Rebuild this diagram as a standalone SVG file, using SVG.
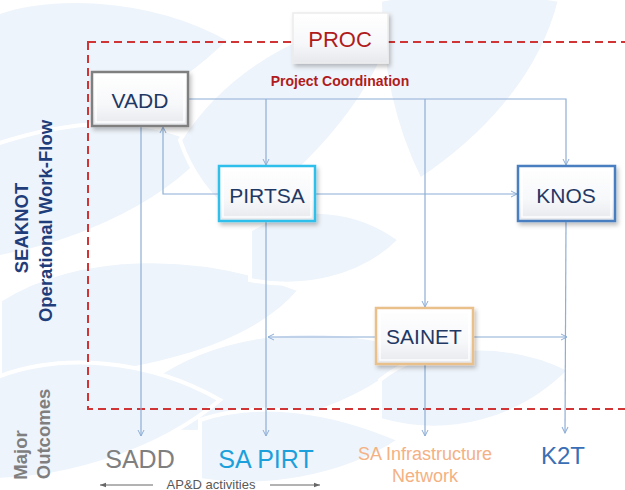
<svg xmlns="http://www.w3.org/2000/svg" width="625" height="490" viewBox="0 0 625 490">
<defs>
<linearGradient id="nodeFill" x1="0" y1="0" x2="0" y2="1">
<stop offset="0" stop-color="#ffffff"/>
<stop offset="0.6" stop-color="#f7f8fa"/>
<stop offset="1" stop-color="#e6e8ec"/>
</linearGradient>
<filter id="shadow" x="-20%" y="-20%" width="150%" height="160%">
<feDropShadow dx="2" dy="3" stdDeviation="2" flood-color="#000" flood-opacity="0.25"/>
</filter>
<marker id="arr" viewBox="0 0 8 8" refX="7" refY="4" markerWidth="8" markerHeight="8" markerUnits="userSpaceOnUse" orient="auto">
<path d="M1,1 L7,4 L1,7" fill="none" stroke="#8eaed6" stroke-width="1"/>
</marker>
<marker id="garr" viewBox="0 0 8 8" refX="7" refY="4" markerWidth="7" markerHeight="7" markerUnits="userSpaceOnUse" orient="auto">
<path d="M0,1.5 L7,4 L0,6.5 Z" fill="#666"/>
</marker>
</defs>
<style>
.leaf{fill:#eef4fb;stroke:#ffffff;stroke-width:4}
.conn{fill:none;stroke:#8eaed6;stroke-width:1.2;marker-end:url(#arr)}
.box{fill:url(#nodeFill);stroke-width:2.5;filter:url(#shadow)}
.bevel{fill:none;stroke:#ffffff;stroke-width:1.5;opacity:0.9}
.ntext{font-family:"Liberation Sans",Arial,sans-serif;font-size:21px;fill:#1f3864;text-anchor:middle}
.side{font-family:"Liberation Sans",Arial,sans-serif;font-weight:bold;font-size:18.5px;text-anchor:middle}
.out{font-family:"Liberation Sans",Arial,sans-serif;text-anchor:middle}
</style>
<rect width="625" height="490" fill="#ffffff"/>
<g id="background">
<path class="leaf" d="M-20,20 C40,-10 150,-5 230,40 C180,90 100,140 -20,150 Z"/>
<path class="leaf" d="M-20,150 C60,120 150,110 210,150 C160,210 60,250 -20,260 Z"/>
<path class="leaf" d="M180,140 C230,60 320,20 400,10 C380,90 320,160 240,220 C210,200 190,170 180,140 Z"/>
<path class="leaf" d="M380,0 C430,-10 500,-10 560,0 C540,80 480,140 420,180 C390,120 380,60 380,0 Z"/>
<path class="leaf" d="M0,300 C80,250 200,250 300,290 C250,350 130,380 0,380 Z"/>
<path class="leaf" d="M150,380 C220,330 320,320 420,350 C360,410 260,440 150,430 Z"/>
<path class="leaf" d="M-10,380 C60,350 150,360 220,400 C160,450 70,480 -10,480 Z"/>
<path class="leaf" d="M380,380 C430,340 510,340 570,370 C520,420 450,440 380,420 Z"/>
<path class="leaf" d="M200,420 C260,400 330,410 400,440 C340,480 260,490 200,480 Z"/>
<path class="leaf" d="M250,230 C300,200 360,210 400,240 C360,280 300,290 250,280 Z"/>
</g>
<g id="boundary">
<rect x="88" y="42" width="560" height="367" fill="none" stroke="#d03434" stroke-width="2" stroke-dasharray="8,5"/>
</g>
<g id="labels">
<text class="side" fill="#1f3d7a" transform="translate(28,228) rotate(-90)">SEAKNOT</text>
<text class="side" fill="#1f3d7a" transform="translate(52,221) rotate(-90)">Operational Work-Flow</text>
<text class="side" fill="#7f7f7f" transform="translate(27,455) rotate(-90)">Major</text>
<text class="side" fill="#7f7f7f" transform="translate(50,434) rotate(-90)">Outcomes</text>
<text x="340" y="86" font-family="'Liberation Sans',Arial,sans-serif" font-weight="bold" font-size="14" fill="#b01c1c" text-anchor="middle">Project Coordination</text>
</g>
<g id="connectors">
<polyline class="conn" points="188,99 566,99 566,165"/>
<line class="conn" x1="266" y1="99" x2="266" y2="165"/>
<line class="conn" x1="425" y1="99" x2="425" y2="307"/>
<polyline class="conn" points="219,194 163,194 163,127"/>
<line class="conn" x1="315" y1="194" x2="517" y2="194"/>
<line class="conn" x1="141" y1="126" x2="141" y2="436"/>
<line class="conn" x1="266" y1="221" x2="266" y2="436"/>
<line class="conn" x1="376" y1="337" x2="268" y2="337"/>
<line class="conn" x1="473" y1="337" x2="567" y2="337"/>
<line class="conn" x1="425" y1="364" x2="425" y2="436"/>
<line class="conn" x1="566" y1="221" x2="565" y2="433"/>
</g>
<g id="PROC">
<rect class="box" x="293" y="13" width="95" height="50" style="stroke:#ececec;stroke-width:1.5"/>
<text x="340" y="47" font-family="'Liberation Sans',Arial,sans-serif" font-size="22" fill="#b01c1c" text-anchor="middle">PROC</text>
</g>
<g id="VADD">
<rect class="box" x="92" y="72" width="96" height="54" stroke="#7f7f7f"/>
<rect class="bevel" x="96" y="76" width="88" height="46"/>
<text class="ntext" x="140" y="108">VADD</text>
</g>
<g id="PIRTSA">
<rect class="box" x="219" y="166" width="96" height="55" stroke="#2fc0ea"/>
<rect class="bevel" x="223" y="170" width="88" height="47"/>
<text class="ntext" x="267" y="203">PIRTSA</text>
</g>
<g id="KNOS">
<rect class="box" x="518" y="166" width="97" height="55" stroke="#4a7fc0"/>
<rect class="bevel" x="522" y="170" width="89" height="47"/>
<text class="ntext" x="566" y="203">KNOS</text>
</g>
<g id="SAINET">
<rect class="box" x="376" y="308" width="97" height="56" stroke="#e9bf8a"/>
<rect class="bevel" x="380" y="312" width="89" height="48"/>
<text class="ntext" x="424" y="344">SAINET</text>
</g>
<g id="outcomes">
<text class="out" x="140" y="468" font-size="25" fill="#7f7f7f">SADD</text>
<text class="out" x="266" y="468" font-size="25" fill="#1ca0dc">SA PIRT</text>
<text class="out" x="425" y="460" font-size="18" fill="#f4b183">SA Infrastructure</text>
<text class="out" x="425" y="482" font-size="18" fill="#f4b183">Network</text>
<text class="out" x="563" y="464" font-size="24" fill="#3a6fb5">K2T</text>
</g>
<g id="apd">
<line x1="153" y1="485" x2="100" y2="485" stroke="#666" stroke-width="1" marker-end="url(#garr)"/>
<line x1="270" y1="485" x2="320" y2="485" stroke="#666" stroke-width="1" marker-end="url(#garr)"/>
<text x="211" y="488.5" font-family="'Liberation Sans',Arial,sans-serif" font-size="13" fill="#595959" text-anchor="middle">AP&amp;D activities</text>
</g>
</svg>
